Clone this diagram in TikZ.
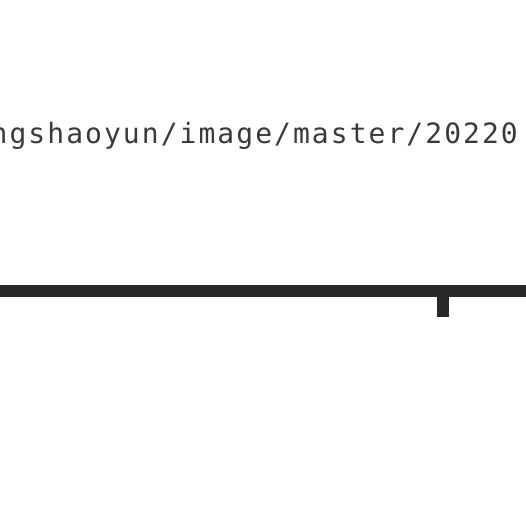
\documentclass[tikz,border=0pt]{standalone}
\usepackage{fontspec}
\newfontfamily\urlfont[LetterSpace=7.3]{DejaVu Sans Mono}
\definecolor{ink}{HTML}{282828}
\definecolor{txt}{HTML}{3A3A3A}
\begin{document}
\begin{tikzpicture}[x=1pt,y=1pt,
  urltext/.style={inner sep=0pt,anchor=base west,text=txt,font=\urlfont\fontsize{28}{28}\selectfont},
  rail/.style={draw=ink,line width=12pt},
  tickmark/.style={fill=ink,draw=none}]
\useasboundingbox (0,0) rectangle (526,-514);
\node[urltext] (url) at (-9.5,-143) {ngshaoyun/image/master/20220};
\coordinate (railL) at (-5,-291);
\coordinate (railR) at (531,-291);
\draw[rail] (railL) -- (railR);
\fill[tickmark] (437,-291) rectangle (449,-317);
\end{tikzpicture}
\end{document}
